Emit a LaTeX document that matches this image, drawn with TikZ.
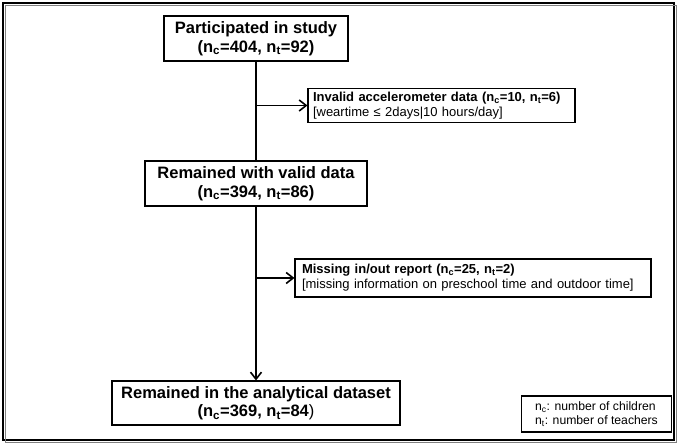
\documentclass[tikz,border=0pt]{standalone}
\usepackage{fontspec}
\setmainfont{Liberation Sans}
\usetikzlibrary{arrows.meta}
\newcommand{\nsubc}{n\textsubscript{c}}
\newcommand{\nsubt}{n\textsubscript{t}}
\tikzset{
  mainbox/.style={draw=black, line width=1.1pt, fill=white, align=center, inner sep=0pt,
    font=\bfseries\fontsize{16.5}{18.5}\selectfont},
  sidebox/.style={draw=black, line width=1.1pt, fill=white, align=left, inner xsep=5pt, inner ysep=0pt,
    font=\fontsize{13}{15}\selectfont},
  legendbox/.style={draw=black, line width=1.1pt, fill=white, align=left, inner xsep=14pt, inner ysep=0pt,
    font=\fontsize{12.2}{14.5}\selectfont},
  flowline/.style={line width=1.6pt, draw=black},
  arr/.style={flowline, -{Straight Barb[length=7pt,width=11pt,line width=1.6pt]}}
}
\begin{document}
\begin{tikzpicture}[x=1pt,y=-1pt]
\useasboundingbox (0,0) rectangle (680,443);
\draw[line width=2pt] (3,3) rectangle (674,440);
\draw[line width=0.6pt, gray] (5.5,5.5) rectangle (676,442);

\node[mainbox, minimum width=184pt, minimum height=45pt] (b1) at (256,38.5)
  {Participated in study\\(\nsubc=404, \nsubt=92)};
\node[mainbox, minimum width=222pt, minimum height=45pt] (b3) at (256,183.5)
  {Remained with valid data\\(\nsubc=394, \nsubt=86)};
\node[mainbox, minimum width=288pt, minimum height=44pt] (b4) at (256,403)
  {Remained in the analytical dataset\\(\nsubc=369, \nsubt=84\textmd{)}};

\node[sidebox, text width=257pt, minimum height=34pt] (b2) at (441.5,105.5)
  {\textbf{Invalid accelerometer data (\nsubc=10, \nsubt=6)}\\{}[weartime ≤ 2days|10 hours/day]};
\node[sidebox, inner xsep=7pt, text width=342pt, minimum height=38pt] (b5) at (473,278)
  {\textbf{Missing in/out report (\nsubc=25, \nsubt=2)}\\{}[missing information on preschool time and outdoor time]};

\node[legendbox, minimum width=147pt, minimum height=36pt] (lg) at (596.5,414)
  {\nsubc: number of children\\\nsubt: number of teachers};

\draw[flowline] (b1.south) -- (b3.north);
\draw[arr] (b3.south) -- (b4.north);
\draw[arr] (b2.west -| b1.south) -- (b2.west);
\draw[arr] (b5.west -| b3.south) -- (b5.west);
\end{tikzpicture}
\end{document}
